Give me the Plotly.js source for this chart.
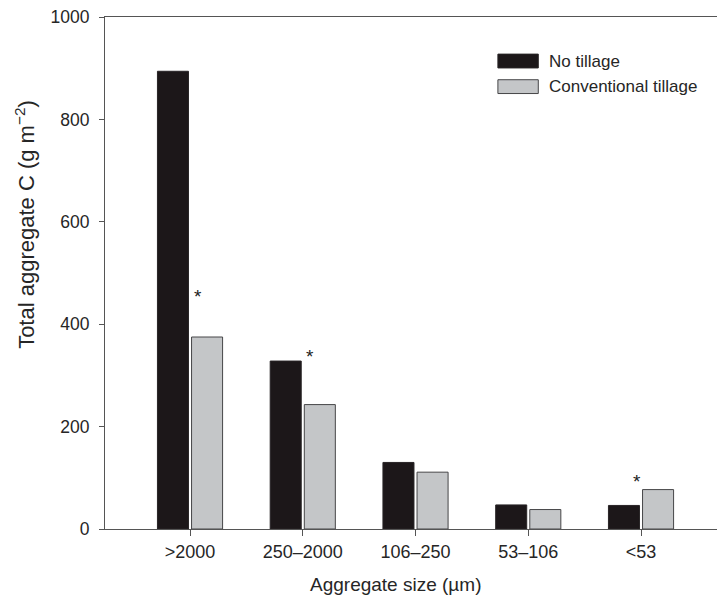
<!DOCTYPE html>
<html>
<head>
<meta charset="utf-8">
<script src="https://cdn.plot.ly/plotly-3.0.1.min.js"></script>
<style>html,body{margin:0;padding:0;background:#fff;}#chart{width:717px;height:602px;}</style>
</head>
<body>
<div id="chart"></div>
<script>
// ---- data ----
const categories = ['>2000', '250\u20132000', '106\u2013250', '53\u2013106', '<53'];
const seriesNames = ['No tillage', 'Conventional tillage'];
const noTillage = [894, 328, 130, 47, 46];
const conventionalTillage = [375, 243, 111, 38, 77];
const yTickValues = [0, 200, 400, 600, 800, 1000];
const yTickLabels = ['0', '200', '400', '600', '800', '1000'];
const sigCategories = ['>2000', '250\u20132000', '<53'];
const sigY = [461, 344, 101];
const xTitle = 'Aggregate size (\u00b5m)';
const yTitle = 'Total aggregate C (g m<sup>\u22122</sup>)';

const FONT = 'Liberation Sans, Arial, Helvetica, sans-serif';
const TXT = '#262626';
const colors = ['rgb(28,23,25)', 'rgb(196,198,200)'];
const outlines = ['rgb(40,36,38)', 'rgb(70,70,72)'];

const traces = [noTillage, conventionalTillage].map((vals, i) => ({
  type: 'bar',
  name: seriesNames[i],
  x: categories,
  y: vals,
  marker: {color: colors[i], line: {color: outlines[i], width: 1}},
  showlegend: false,
  hoverinfo: 'x+y+name'
}));

const sigXShift = [8, 7, -4];
const annotations = sigCategories.map((c, i) => ({
  x: c, y: sigY[i], xref: 'x', yref: 'y',
  text: '*', showarrow: false, xshift: sigXShift[i], yshift: -4,
  font: {family: FONT, size: 19, color: '#222'}
}));

// axis titles placed as annotations to match the reference positions
annotations.push({xref: 'paper', yref: 'paper', x: 0.475, y: -0.109,
  xanchor: 'center', yanchor: 'middle', text: xTitle, showarrow: false,
  font: {family: FONT, size: 19, color: TXT}});
annotations.push({xref: 'paper', yref: 'paper', x: 0, y: 0.594, xshift: -80,
  xanchor: 'center', yanchor: 'middle', textangle: -90, text: yTitle, showarrow: false,
  font: {family: FONT, size: 22, color: TXT}});

// custom legend (swatches drawn as shapes, labels as annotations)
const legY = [0.914, 0.864];
const shapes = [];
seriesNames.forEach((n, i) => {
  shapes.push({type: 'rect', xref: 'paper', yref: 'paper',
    x0: 0.642, x1: 0.708, y0: legY[i] - 0.0135, y1: legY[i] + 0.0135,
    fillcolor: colors[i], line: {color: outlines[i], width: 1}});
  annotations.push({xref: 'paper', yref: 'paper', x: 0.722, y: legY[i],
    xanchor: 'left', yanchor: 'middle', text: n, showarrow: false,
    font: {family: FONT, size: 17, color: TXT}});
});

const layout = {
  width: 717, height: 602,
  margin: {l: 105, r: 0, t: 17, b: 73, pad: 0},
  paper_bgcolor: '#fff', plot_bgcolor: '#fff',
  font: {family: FONT, color: TXT},
  barmode: 'group', bargap: 0.395, bargroupgap: 0.09,
  xaxis: {
    type: 'category', categoryorder: 'array', categoryarray: categories,
    range: [-0.754, 4.674],
    showline: true, linecolor: '#555', linewidth: 1, mirror: true,
    ticks: 'outside', ticklen: 6, tickcolor: '#555', tickwidth: 1,
    showgrid: false, zeroline: false,
    tickfont: {family: FONT, size: 18, color: TXT}
  },
  yaxis: {
    range: [0, 1000], tickvals: yTickValues, ticktext: yTickLabels,
    showline: true, linecolor: '#555', linewidth: 1,
    ticks: 'outside', ticklen: 5, tickcolor: '#555', tickwidth: 1,
    ticklabelstandoff: 6,
    showgrid: false, zeroline: false,
    tickfont: {family: FONT, size: 17.5, color: TXT}
  },
  shapes: shapes,
  annotations: annotations,
  showlegend: false
};

Plotly.newPlot('chart', traces, layout, {displayModeBar: false, staticPlot: true});
</script>
</body>
</html>
